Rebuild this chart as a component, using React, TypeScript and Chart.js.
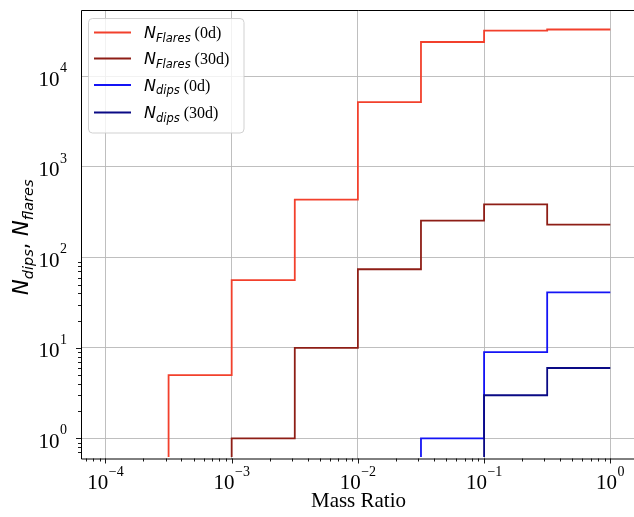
import React, { useEffect, useRef } from 'react';
import { Chart, registerables } from 'chart.js';
Chart.register(...registerables);

// ---- data ----
const binEdgeExponents = [-4, -3.5, -3, -2.5, -2, -1.5, -1, -0.5, 0];
const flares0d = [0, 5, 56, 435, 5200, 24000, 32000, 33000];
const flares30d = [0, 0, 1, 10, 74, 255, 385, 230];
const dips0d = [0, 0, 0, 0, 0, 1, 9, 41];
const dips30d = [0, 0, 0, 0, 0, 0, 3, 6];

const seriesCounts = [flares0d, flares30d, dips0d, dips30d];
const seriesSymbols = ['N', 'N', 'N', 'N'];
const seriesSubscripts = ['Flares', 'Flares', 'dips', 'dips'];
const seriesTags = ['(0d)', '(30d)', '(0d)', '(30d)'];
const seriesColors = ['#f2402c', '#8e1e16', '#1414f5', '#0a0a85'];

const xTickExponents = [-4, -3, -2, -1, 0];
const yTickExponents = [0, 1, 2, 3, 4];
const xAxisTitle = 'Mass Ratio';
const yAxisTitleParts: [string, string][] = [['N', 'dips'], ['N', 'flares']];

const X_MIN_EXP = -4.194;
const X_MAX_EXP = 0.188;
const Y_MIN_EXP = -0.204;
const Y_MAX_EXP = 4.734;

const SERIF = '"Liberation Serif", "Times New Roman", serif';
const SANS = '"DejaVu Sans", sans-serif';

function stepPoints(counts: number[], floor: number) {
  const pts: { x: number; y: number }[] = [];
  let started = false;
  for (let i = 0; i < counts.length; i++) {
    const x0 = Math.pow(10, binEdgeExponents[i]);
    const x1 = Math.pow(10, binEdgeExponents[i + 1]);
    if (!started) {
      if (counts[i] <= 0) continue;
      started = true;
      pts.push({ x: x0, y: floor });
    }
    const v = counts[i] > 0 ? counts[i] : floor;
    pts.push({ x: x0, y: v });
    pts.push({ x: x1, y: v });
  }
  return pts;
}

function drawPow(ctx: CanvasRenderingContext2D, exp: number, x: number, baseline: number, align: 'center' | 'right') {
  const base = '10';
  const e = exp < 0 ? '\u2212' + Math.abs(exp) : String(exp);
  ctx.font = `21px ${SERIF}`;
  const wb = ctx.measureText(base).width;
  ctx.font = `14px ${SERIF}`;
  const we = ctx.measureText(e).width;
  const total = wb + we + 0.5;
  const start = align === 'center' ? x - total / 2 : x - total;
  ctx.textAlign = 'left';
  ctx.textBaseline = 'alphabetic';
  ctx.fillStyle = '#000';
  ctx.font = `21px ${SERIF}`;
  ctx.fillText(base, start, baseline);
  ctx.font = `14px ${SERIF}`;
  ctx.fillText(e, start + wb + 0.5, baseline - 13.5);
}

const overlay = {
  id: 'overlay',
  afterDraw(chart: any) {
    const { ctx, chartArea: a, scales } = chart;
    const xs = scales.x;
    const ys = scales.y;
    ctx.save();

    // spines
    ctx.strokeStyle = '#000';
    ctx.lineWidth = 1;
    ctx.beginPath();
    ctx.moveTo(a.right + 2, a.top + 0.5);
    ctx.lineTo(a.left + 0.5, a.top + 0.5);
    ctx.lineTo(a.left + 0.5, a.bottom + 0.5);
    ctx.lineTo(a.right + 2, a.bottom + 0.5);
    ctx.stroke();

    // ticks
    ctx.lineWidth = 0.9;
    ctx.beginPath();
    for (let d = -6; d <= 1; d++) {
      for (let m = 1; m <= 9; m++) {
        const v = m * Math.pow(10, d);
        const lv = Math.log10(v);
        const len = m === 1 ? 5 : 3;
        if (lv >= X_MIN_EXP && lv <= X_MAX_EXP) {
          const px = Math.round(xs.getPixelForValue(v)) + 0.5;
          ctx.moveTo(px, a.bottom);
          ctx.lineTo(px, a.bottom + len);
        }
        if (lv >= Y_MIN_EXP && lv <= Y_MAX_EXP) {
          const py = Math.round(ys.getPixelForValue(v)) + 0.5;
          ctx.moveTo(a.left, py);
          ctx.lineTo(a.left - len, py);
        }
      }
    }
    ctx.stroke();

    // tick labels
    xTickExponents.forEach((e) => {
      const px = xs.getPixelForValue(Math.pow(10, e));
      drawPow(ctx, e, px, 489, 'center');
    });
    yTickExponents.forEach((e) => {
      const py = ys.getPixelForValue(Math.pow(10, e));
      drawPow(ctx, e, 67, py + 9.5, 'right');
    });

    // x title
    ctx.font = `21px ${SERIF}`;
    ctx.textAlign = 'center';
    ctx.textBaseline = 'alphabetic';
    ctx.fillStyle = '#000';
    ctx.fillText(xAxisTitle, (a.left + a.right + 2) / 2, 507);

    // y title (rotated)
    ctx.save();
    ctx.translate(28, (a.top + a.bottom) / 2 + 3);
    ctx.rotate(-Math.PI / 2);
    const mainF = `italic 21px ${SANS}`;
    const subF = `italic 14.5px ${SANS}`;
    const sepF = `21px ${SANS}`;
    let total = 0;
    yAxisTitleParts.forEach(([s, sub], i) => {
      ctx.font = mainF; total += ctx.measureText(s).width;
      ctx.font = subF; total += ctx.measureText(sub).width;
      if (i < yAxisTitleParts.length - 1) { ctx.font = sepF; total += ctx.measureText(', ').width; }
    });
    let cx = -total / 2;
    ctx.textAlign = 'left';
    yAxisTitleParts.forEach(([s, sub], i) => {
      ctx.font = mainF; ctx.fillText(s, cx, 0); cx += ctx.measureText(s).width;
      ctx.font = subF; ctx.fillText(sub, cx, 4.5); cx += ctx.measureText(sub).width;
      if (i < yAxisTitleParts.length - 1) { ctx.font = sepF; ctx.fillText(', ', cx, 0); cx += ctx.measureText(', ').width; }
    });
    ctx.restore();

    // legend
    const lx = 88.5, ly = 18.5, lw = 155.5, lh = 114.5, r = 4;
    ctx.beginPath();
    ctx.moveTo(lx + r, ly);
    ctx.lineTo(lx + lw - r, ly);
    ctx.quadraticCurveTo(lx + lw, ly, lx + lw, ly + r);
    ctx.lineTo(lx + lw, ly + lh - r);
    ctx.quadraticCurveTo(lx + lw, ly + lh, lx + lw - r, ly + lh);
    ctx.lineTo(lx + r, ly + lh);
    ctx.quadraticCurveTo(lx, ly + lh, lx, ly + lh - r);
    ctx.lineTo(lx, ly + r);
    ctx.quadraticCurveTo(lx, ly, lx + r, ly);
    ctx.closePath();
    ctx.fillStyle = 'rgba(255,255,255,0.8)';
    ctx.fill();
    ctx.strokeStyle = 'rgba(204,204,204,0.9)';
    ctx.lineWidth = 1;
    ctx.stroke();

    const rows = [32.5, 58.5, 85, 112.5];
    seriesColors.forEach((c, i) => {
      const ry = rows[i];
      ctx.strokeStyle = c;
      ctx.lineWidth = 1.8;
      ctx.beginPath();
      ctx.moveTo(94, ry);
      ctx.lineTo(131, ry);
      ctx.stroke();
      let tx = 144;
      ctx.fillStyle = '#000';
      ctx.textAlign = 'left';
      ctx.font = `italic 16px ${SANS}`;
      ctx.fillText(seriesSymbols[i], tx, ry + 5.5);
      tx += ctx.measureText(seriesSymbols[i]).width;
      ctx.font = `italic 11.5px ${SANS}`;
      ctx.fillText(seriesSubscripts[i], tx, ry + 9);
      tx += ctx.measureText(seriesSubscripts[i]).width;
      ctx.font = `16px ${SERIF}`;
      ctx.fillText(' ' + seriesTags[i], tx, ry + 5.5);
    });

    ctx.restore();
  },
};

export default function App() {
  const ref = useRef<HTMLCanvasElement | null>(null);
  useEffect(() => {
    if (!ref.current) return;
    const floor = Math.pow(10, Y_MIN_EXP);
    const datasets = seriesCounts.map((counts, i) => ({
      label: `${seriesSymbols[i]}_${seriesSubscripts[i]} ${seriesTags[i]}`,
      data: stepPoints(counts, floor),
      borderColor: seriesColors[i],
      backgroundColor: seriesColors[i],
      borderWidth: 1.8,
      pointRadius: 0,
      fill: false,
      tension: 0,
      order: seriesCounts.length - i,
    }));
    const chart = new Chart(ref.current, {
      type: 'line',
      data: { datasets },
      options: {
        animation: false,
        responsive: false,
        maintainAspectRatio: false,
        devicePixelRatio: 1,
        layout: { padding: { top: 10, right: 0, left: 0, bottom: 0 } },
        plugins: { legend: { display: false }, tooltip: { enabled: false } },
        scales: {
          x: {
            type: 'logarithmic',
            min: Math.pow(10, X_MIN_EXP),
            max: Math.pow(10, X_MAX_EXP),
            afterBuildTicks: (s: any) => {
              s.ticks = xTickExponents.map((e) => ({ value: Math.pow(10, e) }));
            },
            afterFit: (s: any) => { s.height = 58.5; },
            ticks: { display: false },
            grid: { color: '#b8b8b8', lineWidth: 0.9, drawTicks: false },
            border: { display: false },
          },
          y: {
            type: 'logarithmic',
            min: Math.pow(10, Y_MIN_EXP),
            max: Math.pow(10, Y_MAX_EXP),
            afterBuildTicks: (s: any) => {
              s.ticks = yTickExponents.map((e) => ({ value: Math.pow(10, e) }));
            },
            afterFit: (s: any) => { s.width = 81; },
            ticks: { display: false },
            grid: { color: '#b8b8b8', lineWidth: 0.9, drawTicks: false },
            border: { display: false },
          },
        },
      },
      plugins: [overlay],
    });
    return () => chart.destroy();
  }, []);
  return (
    <div style={{ position: 'fixed', left: 0, top: 0, width: 634, height: 517, background: '#fff' }}>
      <canvas ref={ref} width={634} height={517} style={{ width: 634, height: 517, display: 'block' }} />
    </div>
  );
}
